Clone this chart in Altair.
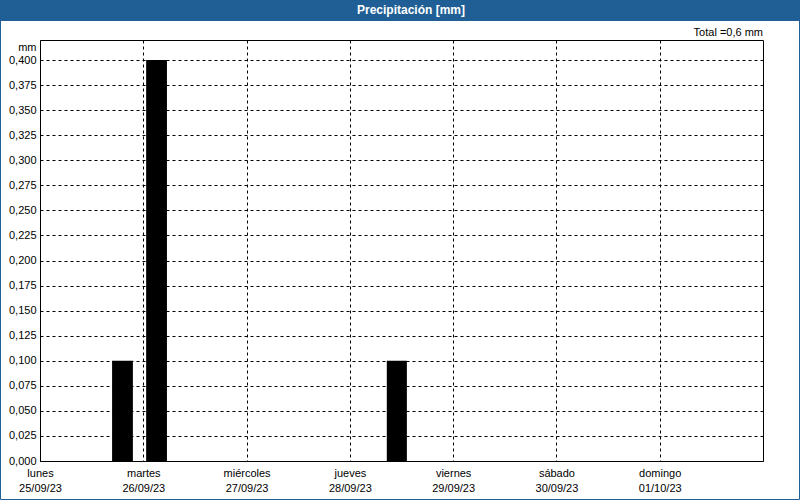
import altair as alt
import pandas as pd

# Data
bar_start = ["2023-09-25T16:45:00Z", "2023-09-26T00:40:00Z", "2023-09-28T08:35:00Z"]
bar_end = ["2023-09-25T21:35:00Z", "2023-09-26T05:30:00Z", "2023-09-28T13:15:00Z"]
precip_mm = [0.1, 0.4, 0.1]
y_ticks = [0.0, 0.025, 0.05, 0.075, 0.1, 0.125, 0.15, 0.175, 0.2, 0.225,
           0.25, 0.275, 0.3, 0.325, 0.35, 0.375, 0.4]
day_ticks = [25, 26, 27, 28, 29, 30, 1]
day_months = [9, 9, 9, 9, 9, 9, 10]
title_text = "Precipitación [mm]"
total_text = "Total =0,6 mm"

FONT = "Liberation Sans"
BLUE = "#1f5f96"

df = pd.DataFrame({"start": bar_start, "end": bar_end, "value": precip_mm})

x_values = [alt.DateTime(year=2023, month=m, date=d, utc=True) for d, m in zip(day_ticks, day_months)]

bars = alt.Chart(df).mark_rect(color="black", opacity=1).encode(
    x=alt.X(
        "start:T",
        scale=alt.Scale(type="utc",
                        domain=[alt.DateTime(year=2023, month=9, date=25, utc=True),
                                alt.DateTime(year=2023, month=10, date=2, utc=True)]),
        axis=alt.Axis(
            values=x_values,
            title=None,
            grid=True,
            gridDash=[3, 3],
            gridColor="black",
            gridOpacity=1,
            domain=False,
            ticks=False,
            labelFlush=False,
            labelOverlap=False,
            labelPadding=6,
            labelFont=FONT,
            labelFontSize=11,
            labelColor="black",
            labelLineHeight=15,
            labelExpr="[['domingo','lunes','martes','miércoles','jueves','viernes','sábado'][utcday(datum.value)], utcFormat(datum.value, '%d/%m/%y')]",
        ),
    ),
    x2="end:T",
    y=alt.Y(
        "value:Q",
        scale=alt.Scale(domain=[0, 0.42], nice=False, zero=True),
        axis=alt.Axis(
            values=y_ticks,
            title="mm",
            titleAngle=0,
            titleAlign="right",
            titleBaseline="middle",
            titleX=-4,
            titleY=7,
            titleFont=FONT,
            titleFontSize=11,
            titleFontWeight="normal",
            titleColor="black",
            grid=True,
            gridDash=[3, 3],
            gridColor="black",
            gridOpacity=1,
            domain=False,
            ticks=False,
            labelFlush=False,
            labelOverlap=False,
            labelPadding=4,
            labelFont=FONT,
            labelFontSize=11,
            labelColor="black",
            labelExpr="replace(format(datum.value, '.3f'), '.', ',')",
        ),
    ),
    y2=alt.datum(0),
)

one = pd.DataFrame({"t": [title_text]})
tot = pd.DataFrame({"t": [total_text]})

title_bar = alt.Chart(one).mark_rect(color=BLUE).encode(
    x=alt.value(-40), x2=alt.value(760), y=alt.value(-40), y2=alt.value(-19)
)
title_lbl = alt.Chart(one).mark_text(
    color="white", font=FONT, fontSize=12, fontWeight="bold", align="center", baseline="middle"
).encode(x=alt.value(371), y=alt.value(-30), text="t:N")
total_lbl = alt.Chart(tot).mark_text(
    color="black", font=FONT, fontSize=11, align="right", baseline="middle"
).encode(x=alt.value(723), y=alt.value(-7), text="t:N")
border = alt.Chart(one).mark_rect(fill=None, stroke=BLUE, strokeWidth=1, filled=False).encode(
    x=alt.value(-39.5), x2=alt.value(759.5), y=alt.value(-40), y2=alt.value(459.5)
)

chart = alt.layer(bars, title_bar, title_lbl, total_lbl, border).properties(
    width=723, height=421,
    autosize=alt.AutoSizeParams(type="none"),
    padding={"left": 40, "top": 40, "right": 37, "bottom": 39},
    background="white",
).configure_view(stroke="black", strokeWidth=1)

chart.save("out.html", embed_options={"renderer": "svg", "actions": False})
